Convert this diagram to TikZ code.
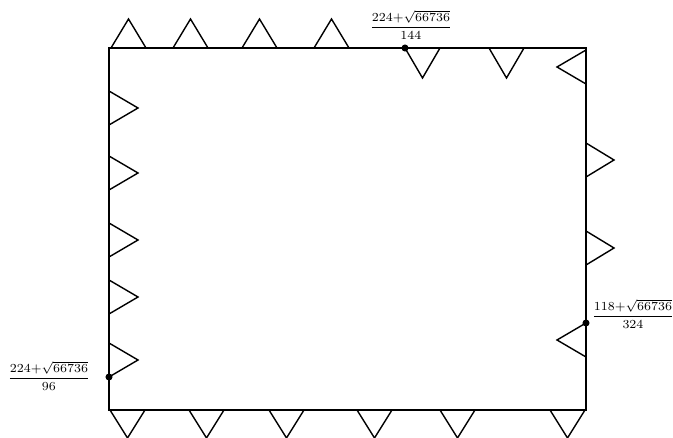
\documentclass[tikz,border=0pt]{standalone}
\usepackage{amsmath}
\usepackage{amssymb}
\usepackage{xcolor}
\usepackage{tikz}

\begin{document}
\begin{tikzpicture}[x=0.02cm,y=-0.02cm,line width=0.8pt,line join=miter,
    dot/.style={shape=circle,fill=black,inner sep=0pt,minimum size=4pt},
    lab/.style={font=\scriptsize,inner sep=0pt}]
    \useasboundingbox (0,0) rectangle (673,438);
    \draw (109,48) rectangle (586,410);
    % top edge
    \foreach \x in {111,173,242,314}
        \draw (\x,48) -- (\x+17.5,19) -- (\x+35,48);
    \foreach \x in {405,489}
        \draw (\x,48) -- (\x+17.5,78) -- (\x+35,48);
    % bottom edge
    \foreach \x in {110,189,269,357,440,550}
        \draw (\x,410) -- (\x+17.5,438) -- (\x+35,410);
    % left edge
    \foreach \y in {91,156,223,280,343}
        \draw (109,\y) -- (138,\y+17) -- (109,\y+34);
    % right edge
    \foreach \y in {143,231}
        \draw (586,\y) -- (614,\y+17) -- (586,\y+34);
    \foreach \y in {50,323}
        \draw (586,\y) -- (557,\y+17) -- (586,\y+34);
    \node[dot] (top) at (405,48) {};
    \node[dot] (left) at (109,377) {};
    \node[dot] (right) at (586,323) {};
    \node[lab] (toplab) at (411,25) {$\dfrac{224{+}\sqrt{66736}}{144}$};
    \node[lab] (leftlab) at (49,376) {$\dfrac{224{+}\sqrt{66736}}{96}$};
    \node[lab] (rightlab) at (633,314) {$\dfrac{118{+}\sqrt{66736}}{324}$};
\end{tikzpicture}
\end{document}
